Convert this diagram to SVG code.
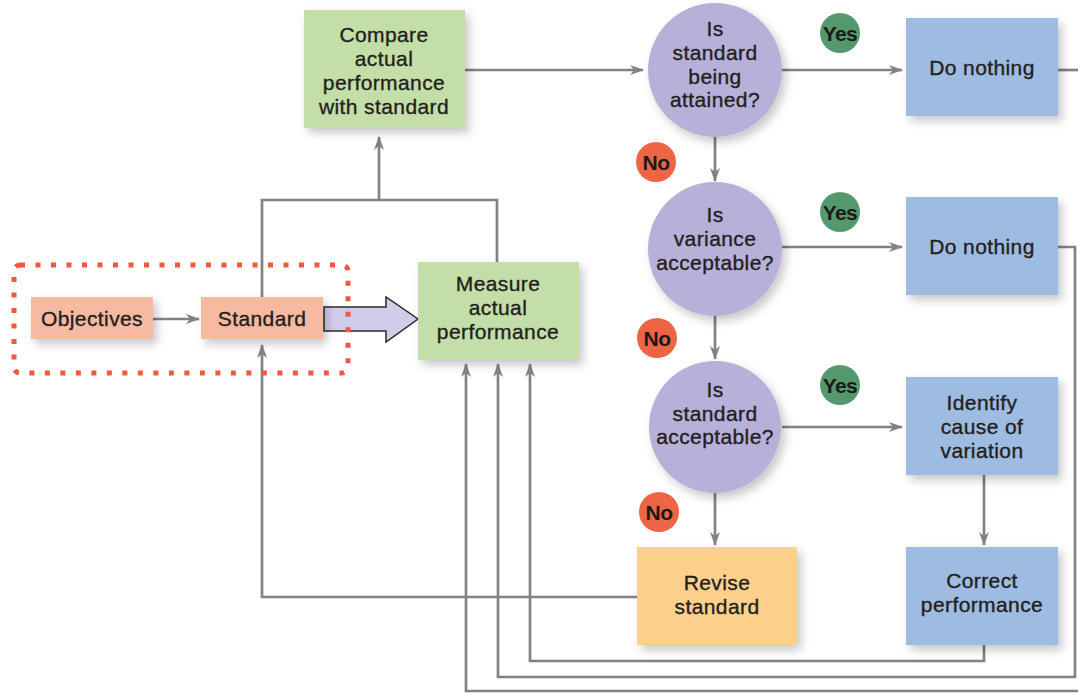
<svg xmlns="http://www.w3.org/2000/svg" width="1078" height="693" viewBox="0 0 1078 693">
<style>
.t{font-family:"Liberation Sans",Arial,sans-serif;font-size:21px;letter-spacing:0.4px;fill:#231f20;stroke:#231f20;stroke-width:0.35px;text-anchor:middle}
.b{font-family:"Liberation Sans",Arial,sans-serif;font-size:21px;font-weight:bold;letter-spacing:-0.6px;fill:#1a1a1a;text-anchor:middle}
.ln{fill:none;stroke:#818186;stroke-width:2.7}
.green{fill:#c4dea8}
.salmon{fill:#f7b9a0}
.purple{fill:#b7b0d8}
.blue{fill:#9ebbe2}
.yellow{fill:#fdd08b}
</style>
<defs>
<filter id="sh" x="-20%" y="-20%" width="150%" height="150%">
<feDropShadow dx="4" dy="5" stdDeviation="5" flood-color="#000" flood-opacity="0.22"/>
</filter>
<marker id="ah" viewBox="0 0 14 10" refX="13" refY="5" markerWidth="14" markerHeight="10" markerUnits="userSpaceOnUse" orient="auto">
<path d="M0,0 L14,5 L0,10 L4,5 Z" fill="#818186"/>
</marker>
</defs>
<rect width="1078" height="693" fill="#fff"/>

<g id="connectors">
<path class="ln" d="M465,70 H643" marker-end="url(#ah)"/>
<path class="ln" d="M782,70 H902" marker-end="url(#ah)"/>
<path class="ln" d="M1058,70 H1078"/>
<path class="ln" d="M715,137 V181" marker-end="url(#ah)"/>
<path class="ln" d="M782,247 H902" marker-end="url(#ah)"/>
<path class="ln" d="M715,316 V359" marker-end="url(#ah)"/>
<path class="ln" d="M782,427 H902" marker-end="url(#ah)"/>
<path class="ln" d="M715,493 V545" marker-end="url(#ah)"/>
<path class="ln" d="M984,475 V545" marker-end="url(#ah)"/>
<path class="ln" d="M153,319 H199" marker-end="url(#ah)"/>
<path class="ln" d="M262,297 V200 H497 V262"/>
<path class="ln" d="M379,200 V137" marker-end="url(#ah)"/>
<path class="ln" d="M637,597 H262 V345" marker-end="url(#ah)"/>
<path class="ln" d="M984,645 V661 H530 V364" marker-end="url(#ah)"/>
<path class="ln" d="M1058,247 H1075 V677 H498 V364" marker-end="url(#ah)"/>
<path class="ln" d="M1078,691 H466 V364" marker-end="url(#ah)" stroke="#9a9a9e"/>
<path d="M324,307 H386 V297 L418,319 L386,342 V331 H324 Z" fill="#d0cde8" stroke="#2a2a2a" stroke-width="1.5"/>
</g>

<g id="group-box">
<rect x="14" y="265" width="334" height="108" rx="6" fill="none" stroke="#f05a3c" stroke-width="5" stroke-dasharray="5 10.5"/>
</g>

<g id="objectives">
<rect x="31" y="297" width="122" height="42" class="salmon" filter="url(#sh)"/>
<text class="t" x="92" y="326">Objectives</text>
</g>
<g id="standard">
<rect x="201" y="297" width="122" height="42" class="salmon" filter="url(#sh)"/>
<text class="t" x="262" y="326">Standard</text>
</g>
<g id="compare">
<rect x="304" y="10" width="161" height="118" class="green" filter="url(#sh)"/>
<text class="t" x="384" y="42">Compare</text>
<text class="t" x="384" y="66">actual</text>
<text class="t" x="384" y="90">performance</text>
<text class="t" x="384" y="114">with standard</text>
</g>
<g id="measure">
<rect x="418" y="262" width="161" height="98" class="green" filter="url(#sh)"/>
<text class="t" x="498" y="291">Measure</text>
<text class="t" x="498" y="315">actual</text>
<text class="t" x="498" y="339">performance</text>
</g>
<g id="q1">
<circle cx="715" cy="70" r="67" class="purple" filter="url(#sh)"/>
<text class="t" x="715" y="36">Is</text>
<text class="t" x="715" y="60">standard</text>
<text class="t" x="715" y="84">being</text>
<text class="t" x="715" y="107">attained?</text>
</g>
<g id="q2">
<circle cx="715" cy="249" r="67" class="purple" filter="url(#sh)"/>
<text class="t" x="715" y="222">Is</text>
<text class="t" x="715" y="246">variance</text>
<text class="t" x="715" y="270">acceptable?</text>
</g>
<g id="q3">
<circle cx="715" cy="427" r="66" class="purple" filter="url(#sh)"/>
<text class="t" x="715" y="397">Is</text>
<text class="t" x="715" y="421">standard</text>
<text class="t" x="715" y="444">acceptable?</text>
</g>
<g id="donothing1">
<rect x="906" y="18" width="152" height="98" class="blue" filter="url(#sh)"/>
<text class="t" x="982" y="75">Do nothing</text>
</g>
<g id="donothing2">
<rect x="906" y="197" width="152" height="98" class="blue" filter="url(#sh)"/>
<text class="t" x="982" y="254">Do nothing</text>
</g>
<g id="identify">
<rect x="906" y="377" width="152" height="98" class="blue" filter="url(#sh)"/>
<text class="t" x="982" y="410">Identify</text>
<text class="t" x="982" y="434">cause of</text>
<text class="t" x="982" y="458">variation</text>
</g>
<g id="correct">
<rect x="906" y="547" width="152" height="98" class="blue" filter="url(#sh)"/>
<text class="t" x="982" y="588">Correct</text>
<text class="t" x="982" y="612">performance</text>
</g>
<g id="revise">
<rect x="637" y="547" width="160" height="98" class="yellow" filter="url(#sh)"/>
<text class="t" x="717" y="590">Revise</text>
<text class="t" x="717" y="614">standard</text>
</g>

<g id="badges">
<circle cx="840" cy="33" r="20" fill="#55986d"/><text class="b" x="840" y="40.5">Yes</text>
<circle cx="840" cy="212" r="20" fill="#55986d"/><text class="b" x="840" y="219.5">Yes</text>
<circle cx="840" cy="385" r="20" fill="#55986d"/><text class="b" x="840" y="392.5">Yes</text>
<circle cx="656" cy="162" r="20" fill="#ee6545"/><text class="b" x="656" y="169.5">No</text>
<circle cx="657" cy="338" r="20" fill="#ee6545"/><text class="b" x="657" y="345.5">No</text>
<circle cx="659" cy="512" r="20" fill="#ee6545"/><text class="b" x="659" y="519.5">No</text>
</g>
</svg>
